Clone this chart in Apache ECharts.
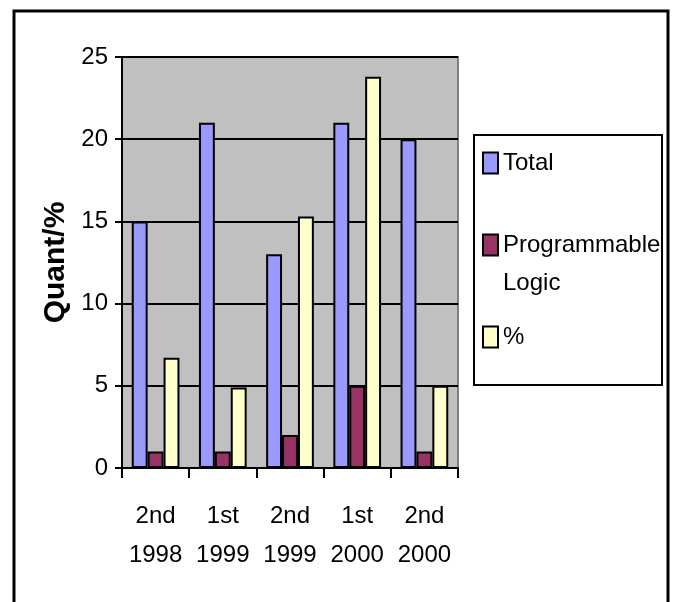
<!DOCTYPE html>
<html>
<head>
<meta charset="utf-8">
<script src="https://cdn.jsdelivr.net/npm/echarts@6/dist/echarts.min.js"></script>
<style>
html,body{margin:0;padding:0;background:#fff;}
#chart{width:674px;height:602px;}
</style>
</head>
<body>
<div id="chart"></div>
<script>
const categories = ['2nd\n1998', '1st\n1999', '2nd\n1999', '1st\n2000', '2nd\n2000'];
const totalValues = [15, 21, 13, 21, 20];
const plValues = [1, 1, 2, 5, 1];
const pctValues = [6.7, 4.9, 15.3, 23.8, 5];
const yTicks = { min: 0, max: 25, interval: 5 };
const seriesNames = ['Total', 'Programmable Logic', '%'];
const colors = ['#9999FF', '#993366', '#FFFFCC'];

const FONT = "'Liberation Sans', Arial, sans-serif";
const chart = echarts.init(document.getElementById('chart'));

function legendFor(name, top) {
  return {
    data: [{ name: name, icon: 'rect' }],
    left: 482, top: top, padding: 0, orient: 'vertical',
    itemWidth: 15, itemHeight: 21, itemGap: 0,
    selectedMode: false,
    formatter: n => n === 'Programmable Logic' ? '\nProgrammable\nLogic' : n,
    textStyle: { fontFamily: FONT, fontSize: 24, lineHeight: 38, color: '#000' }
  };
}

chart.setOption({
  animation: false,
  backgroundColor: '#fff',
  graphic: [
    { type: 'rect', shape: { x: 14, y: 11, width: 654, height: 610 }, style: { fill: 'none', stroke: '#000', lineWidth: 3 }, z: -1 },
    { type: 'rect', shape: { x: 474, y: 135, width: 188, height: 250 }, style: { fill: '#fff', stroke: '#000', lineWidth: 2 }, z: -1 }
  ],
  grid: { left: 122, right: 216, top: 57, bottom: 134, show: true, backgroundColor: '#C0C0C0', borderColor: '#808080', borderWidth: 2 },
  legend: [
    legendFor('Total', 144),
    legendFor('Programmable Logic', 188),
    legendFor('%', 318)
  ],
  xAxis: {
    type: 'category', data: categories,
    axisLine: { lineStyle: { color: '#000', width: 2 } },
    axisTick: { show: true, length: 10, lineStyle: { color: '#000', width: 2 } },
    axisLabel: { interval: 0, fontFamily: FONT, fontSize: 24, lineHeight: 39, color: '#000', margin: 29 }
  },
  yAxis: {
    type: 'value', min: yTicks.min, max: yTicks.max, interval: yTicks.interval,
    name: 'Quant/%', nameLocation: 'middle', nameRotate: 90, nameGap: 51,
    nameTextStyle: { fontFamily: FONT, fontWeight: 'bold', fontSize: 30, color: '#000' },
    axisLine: { show: true, lineStyle: { color: '#000', width: 2 } },
    axisTick: { show: true, length: 7, lineStyle: { color: '#000', width: 2 } },
    axisLabel: { fontFamily: FONT, fontSize: 24, color: '#000', margin: 14 },
    splitLine: { lineStyle: { color: '#000', width: 2 } }
  },
  series: [
    { name: seriesNames[0], type: 'bar', data: totalValues, barGap: '0%', barCategoryGap: '29%', itemStyle: { color: colors[0], borderColor: '#000', borderWidth: 2 } },
    { name: seriesNames[1], type: 'bar', data: plValues, itemStyle: { color: colors[1], borderColor: '#000', borderWidth: 2 } },
    { name: seriesNames[2], type: 'bar', data: pctValues, itemStyle: { color: colors[2], borderColor: '#000', borderWidth: 2 } }
  ]
});
</script>
</body>
</html>
